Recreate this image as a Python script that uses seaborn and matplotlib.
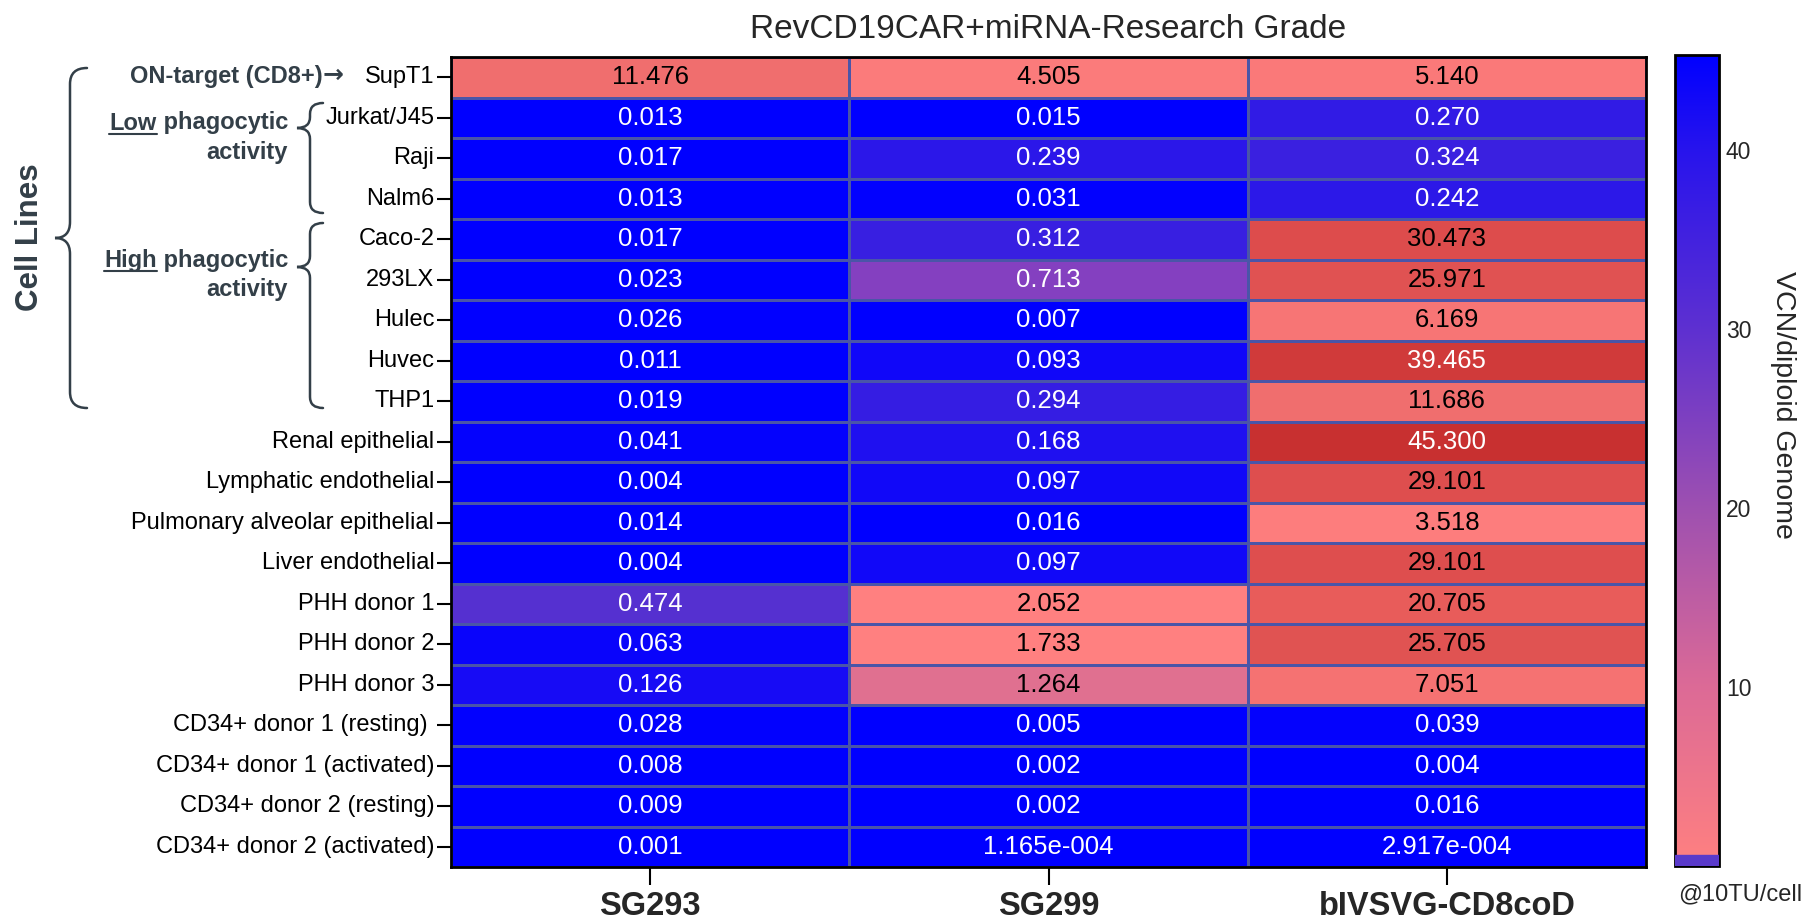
import numpy as np
import pandas as pd
import matplotlib
matplotlib.use("Agg")
import matplotlib.pyplot as plt
import seaborn as sns
from matplotlib.colors import LinearSegmentedColormap, Normalize
from matplotlib.cm import ScalarMappable
from matplotlib.path import Path
from matplotlib.patches import PathPatch, Rectangle

# ---------------- data ----------------
rows = ["SupT1", "Jurkat/J45", "Raji", "Nalm6", "Caco-2", "293LX", "Hulec", "Huvec", "THP1",
        "Renal epithelial", "Lymphatic endothelial", "Pulmonary alveolar epithelial",
        "Liver endothelial", "PHH donor 1", "PHH donor 2", "PHH donor 3",
        "CD34+ donor 1 (resting) ", "CD34+ donor 1 (activated)", "CD34+ donor 2 (resting)",
        "CD34+ donor 2 (activated)"]
columns = ["SG293", "SG299", "bIVSVG-CD8coD"]
sg293 = [11.476, 0.013, 0.017, 0.013, 0.017, 0.023, 0.026, 0.011, 0.019, 0.041, 0.004, 0.014,
         0.004, 0.474, 0.063, 0.126, 0.028, 0.008, 0.009, 0.001]
sg299 = [4.505, 0.015, 0.239, 0.031, 0.312, 0.713, 0.007, 0.093, 0.294, 0.168, 0.097, 0.016,
         0.097, 2.052, 1.733, 1.264, 0.005, 0.002, 0.002, 1.165e-4]
bivsvg = [5.140, 0.270, 0.324, 0.242, 30.473, 25.971, 6.169, 39.465, 11.686, 45.300, 29.101, 3.518,
          29.101, 20.705, 25.705, 7.051, 0.039, 0.004, 0.016, 2.917e-4]
title = "RevCD19CAR+miRNA-Research Grade"
cbar_ticks = [10, 20, 30, 40]
cbar_label = "VCN/diploid Genome"
cbar_note = "@10TU/cell"

df = pd.DataFrame({c: v for c, v in zip(columns, [sg293, sg299, bivsvg])}, index=rows)


def fmt(v):
    if v < 0.001:
        m, e = f"{v:.3e}".split("e")
        sign = e[0]
        return f"{m}e{sign}{int(e[1:]):03d}"
    return f"{v:.3f}"


labels = np.vectorize(fmt)(df.values)

# ---------------- colours ----------------
VMAX = 45.3
anchors = [(0.0, (0, 0, 255)), (0.02, (0, 0, 255)), (0.1, (18, 8, 248)), (0.17, (32, 16, 240)),
           (0.3, (54, 30, 226)), (0.474, (85, 48, 208)), (0.713, (132, 64, 192)),
           (1.264, (224, 112, 144)), (1.7, (255, 128, 128)), (2.1, (255, 128, 128)),
           (5.0, (250, 122, 122)), (7.0, (245, 114, 114)), (11.5, (240, 110, 110)),
           (20.7, (232, 92, 90)), (26.0, (224, 82, 82)), (30.5, (221, 76, 76)),
           (39.5, (208, 58, 58)), (45.3, (200, 48, 48))]
cell_cmap = LinearSegmentedColormap.from_list(
    "cells", [(v / VMAX, tuple(c / 255 for c in rgb)) for v, rgb in anchors], N=16384)

cb_anchors = [(0.0, (255, 128, 128)), (0.22, (220, 106, 150)), (0.44, (158, 80, 176)),
              (0.66, (94, 48, 208)), (0.88, (40, 20, 236)), (1.0, (0, 0, 255))]
cb_cmap = LinearSegmentedColormap.from_list(
    "cb", [(p, tuple(c / 255 for c in rgb)) for p, rgb in cb_anchors], N=1024)

# ---------------- figure ----------------
sns.set_theme(style="white")
plt.rcParams["font.family"] = ["Liberation Sans", "DejaVu Sans"]

W, H = 1809, 919
fig = plt.figure(figsize=(W / 100, H / 100), dpi=100)


def fx(x):
    return x / W


def fy(y):
    return 1 - y / H


L, R, T, B = 451, 1646, 57, 867
ax = fig.add_axes([fx(L), fy(B), fx(R) - fx(L), fy(T) - fy(B)])
sns.heatmap(df, ax=ax, cmap=cell_cmap, vmin=0, vmax=VMAX, annot=labels, fmt="",
            annot_kws={"fontsize": 18.5}, linewidths=1.0, linecolor="#4a55a8", cbar=False)

vals = df.values.ravel()
for t, v in zip(ax.texts, vals):
    t.set_color("white" if (v < 1.0 or v > 35) else "black")

for s in ax.spines.values():
    s.set_visible(True)
    s.set_color("black")
    s.set_linewidth(2)

ax.set_xlabel("")
ax.set_ylabel("")
ax.tick_params(axis="y", left=True, length=10, width=1.5, color="black", labelsize=17,
               pad=2, labelcolor="black")
ax.tick_params(axis="x", bottom=True, length=13, width=1.5, color="black", pad=4)
ax.set_yticklabels(rows, rotation=0, fontsize=17)
ax.set_xticklabels(columns, rotation=0, fontsize=23.5, fontweight="bold")
ax.set_title(title, fontsize=24, pad=14)

# ---------------- colourbar ----------------
cax = fig.add_axes([fx(1675), fy(866), fx(1719) - fx(1675), fy(55) - fy(866)])
cb = fig.colorbar(ScalarMappable(norm=Normalize(0, VMAX), cmap=cb_cmap), cax=cax)
cax.add_patch(Rectangle((0, 0), 1, 0.6, color="#5a3acb", transform=cax.transData, zorder=3))
cb.set_ticks(cbar_ticks)
cb.outline.set_linewidth(2)
cb.outline.set_edgecolor("black")
cax.yaxis.set_ticks_position("both")
cax.tick_params(axis="y", direction="in", length=7, width=1.5, color="black", labelsize=16.5,
                pad=5, labelright=True, labelleft=False)
fig.text(fx(1783), fy(405), cbar_label, rotation=270, ha="center", va="center", fontsize=20.5)
fig.text(fx(1740), fy(894), cbar_note, ha="center", va="center", fontsize=17)

# ---------------- group annotations ----------------
SLATE = "#333f48"


def brace(x_end, x_line, x_tip, y_top, y_mid, y_bot, r):
    pts = [(x_end, y_top), (x_line, y_top), (x_line, y_top + r),
           (x_line, y_mid - r), (x_line, y_mid), (x_tip, y_mid),
           (x_line, y_mid), (x_line, y_mid + r),
           (x_line, y_bot - r), (x_line, y_bot), (x_end, y_bot)]
    codes = [Path.MOVETO, Path.CURVE3, Path.CURVE3, Path.LINETO, Path.CURVE3, Path.CURVE3,
             Path.CURVE3, Path.CURVE3, Path.LINETO, Path.CURVE3, Path.CURVE3]
    p = Path([(fx(x), fy(y)) for x, y in pts], codes)
    fig.add_artist(PathPatch(p, fill=False, edgecolor=SLATE, lw=1.8,
                             transform=fig.transFigure, capstyle="round"))


brace(87, 70, 55, 68, 238, 408, 16)
brace(323, 310, 297, 103, 128, 213, 11)
brace(323, 310, 297, 223, 267, 408, 11)

fig.text(fx(30), fy(237), "Cell Lines", rotation=90, ha="center", va="center",
         fontsize=22.5, fontweight="bold", color=SLATE)
fig.text(fx(323), fy(76), "ON-target (CD8+)", ha="right", va="center",
         fontsize=17, fontweight="bold", color=SLATE)
fig.text(fx(323), fy(75), "\u2192", ha="left", va="center", family=["DejaVu Sans"],
         fontsize=18, fontweight="bold", color=SLATE)

fig.canvas.draw()
renderer = fig.canvas.get_renderer()


def underlined_line(first, rest, x_right, y):
    t2 = fig.text(fx(x_right), fy(y), rest, ha="right", va="center", fontsize=17,
                  fontweight="bold", color=SLATE)
    fig.canvas.draw()
    bb = t2.get_window_extent(renderer)
    t1 = fig.text(bb.x0 / W, fy(y), first, ha="right", va="center", fontsize=17,
                  fontweight="bold", color=SLATE)
    fig.canvas.draw()
    b1 = t1.get_window_extent(renderer)
    yy = b1.y0 + 1
    fig.add_artist(plt.Line2D([b1.x0 / W, b1.x1 / W], [yy / H, yy / H], color=SLATE, lw=1.5,
                              transform=fig.transFigure))


underlined_line("Low", " phagocytic", 288, 123)
fig.text(fx(288), fy(152), "activity", ha="right", va="center", fontsize=17,
         fontweight="bold", color=SLATE)
underlined_line("High", " phagocytic", 288, 260)
fig.text(fx(288), fy(289), "activity", ha="right", va="center", fontsize=17,
         fontweight="bold", color=SLATE)

fig.savefig("out.png", dpi=100)
